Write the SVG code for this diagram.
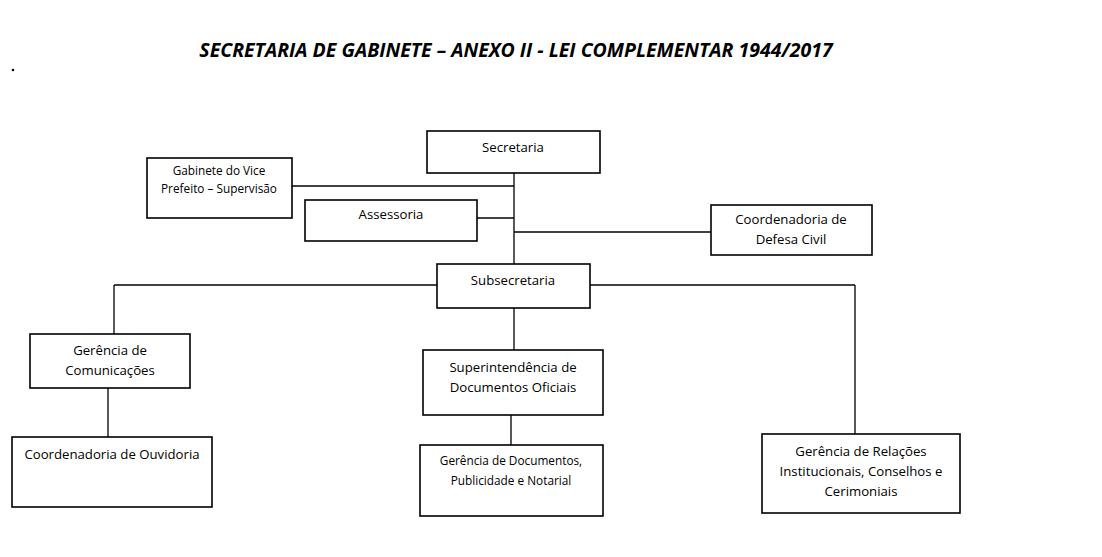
<svg xmlns="http://www.w3.org/2000/svg" width="1102" height="557" viewBox="0 0 1102 557">
<style>
rect{fill:#fff;stroke:#000;stroke-width:1.6}
.c line{stroke:#000;stroke-width:1.3}
text{font-family:"Open Sans","Liberation Sans",sans-serif;font-size:13.2px;text-anchor:middle;fill:#000}
.s{font-size:11.8px}
.t{font-size:19.5px;font-weight:bold;font-style:italic}
</style>
<rect x="0" y="0" width="1102" height="557" style="stroke:none"/>
<text class="t" x="516" y="57">SECRETARIA DE GABINETE – ANEXO II - LEI COMPLEMENTAR 1944/2017</text>
<circle cx="13" cy="70" r="1.3" fill="#000"/>
<g class="c">
<line x1="514" y1="173" x2="514" y2="264"/>
<line x1="292" y1="186" x2="514" y2="186"/>
<line x1="477" y1="218" x2="514" y2="218"/>
<line x1="514" y1="232" x2="711" y2="232"/>
<line x1="114" y1="285" x2="437" y2="285"/>
<line x1="590" y1="285" x2="855" y2="285"/>
<line x1="114" y1="285" x2="114" y2="334"/>
<line x1="855" y1="285" x2="855" y2="434"/>
<line x1="108" y1="388" x2="108" y2="437"/>
<line x1="514" y1="308" x2="514" y2="350"/>
<line x1="511" y1="415" x2="511" y2="445"/>
</g>
<g id="secretaria"><rect x="427" y="131" width="173" height="42"/><text x="513" y="152">Secretaria</text></g>
<g id="gabinete"><rect x="147" y="158" width="145" height="60"/><text class="s" x="219" y="175">Gabinete do Vice</text><text class="s" x="219" y="193">Prefeito – Supervisão</text></g>
<g id="assessoria"><rect x="305" y="200" width="172" height="41"/><text x="391" y="219">Assessoria</text></g>
<g id="defesa"><rect x="711" y="205" width="161" height="50"/><text x="791" y="224">Coordenadoria de</text><text x="791" y="244">Defesa Civil</text></g>
<g id="subsecretaria"><rect x="437" y="264" width="153" height="44"/><text x="513" y="285">Subsecretaria</text></g>
<g id="comunicacoes"><rect x="30" y="334" width="160" height="54"/><text x="110" y="355">Gerência de</text><text x="110" y="375">Comunicações</text></g>
<g id="ouvidoria"><rect x="12" y="437" width="200" height="70"/><text x="112" y="459">Coordenadoria de Ouvidoria</text></g>
<g id="superintendencia"><rect x="423" y="350" width="180" height="65"/><text x="513" y="372">Superintendência de</text><text x="513" y="392">Documentos Oficiais</text></g>
<g id="documentos"><rect x="420" y="445" width="183" height="71"/><text class="s" x="511" y="465">Gerência de Documentos,</text><text class="s" x="511" y="485">Publicidade e Notarial</text></g>
<g id="relacoes"><rect x="762" y="434" width="198" height="79"/><text x="861" y="456">Gerência de Relações</text><text x="861" y="476">Institucionais, Conselhos e</text><text x="861" y="496">Cerimoniais</text></g>
</svg>
